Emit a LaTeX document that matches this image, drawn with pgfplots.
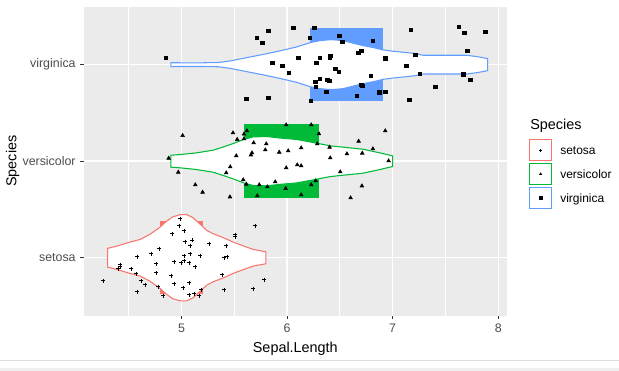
\documentclass[border=0pt]{standalone}
\usepackage{pgfplots}
\pgfplotsset{compat=1.18}
\usepackage{fontspec}
\setmainfont{Liberation Sans}
\definecolor{cset}{HTML}{F8766D}
\definecolor{cver}{HTML}{00BA38}
\definecolor{cvir}{HTML}{619CFF}
\definecolor{panelbg}{HTML}{EBEBEB}
\definecolor{tickgray}{HTML}{4D4D4D}
\definecolor{tickline}{HTML}{333333}

\pgfplotstableread{
x y
4.989 1.404
4.979 1.332
5.027 1.280
4.913 1.249
5.509 1.238
5.509 1.218
5.699 1.332
5.036 1.166
5.102 1.182
5.083 1.124
5.263 1.145
5.424 1.124
4.790 1.093
4.714 1.041
4.581 1.010
5.027 1.021
5.083 1.041
5.178 1.021
5.405 1.000
5.434 1.010
4.932 0.959
4.998 0.948
5.027 0.969
5.074 0.948
4.761 0.938
4.420 0.927
4.418 0.907
4.405 0.886
4.525 0.886
5.131 0.907
4.572 0.834
4.761 0.845
4.903 0.813
5.386 0.824
4.259 0.762
4.619 0.762
4.657 0.720
4.932 0.731
5.074 0.741
5.017 0.689
5.784 0.772
4.581 0.648
4.780 0.699
4.828 0.606
5.188 0.668
5.405 0.668
5.680 0.679
5.074 0.617
5.121 0.627
5.169 0.606
}\setosapts

\pgfplotstableread{
x y
5.011 2.266
5.488 2.293
5.592 2.280
5.620 2.314
5.992 2.376
6.229 2.376
6.302 2.283
6.930 2.314
5.528 2.225
5.592 2.231
5.684 2.190
5.803 2.179
5.794 2.117
6.134 2.138
6.286 2.179
6.403 2.145
6.678 2.207
6.813 2.128
5.926 2.093
6.011 2.107
5.668 2.086
5.658 2.065
5.519 2.055
6.567 2.076
6.712 2.083
4.879 2.031
6.409 2.034
6.962 2.003
5.462 1.941
5.424 1.879
5.992 1.931
6.097 1.962
6.134 1.952
6.504 1.889
4.970 1.886
5.585 1.807
5.614 1.762
5.737 1.755
5.813 1.734
5.888 1.786
5.987 1.717
6.271 1.796
6.229 1.755
5.131 1.755
5.200 1.679
5.459 1.630
5.718 1.641
6.134 1.651
6.602 1.620
6.709 1.744
}\versipts

\pgfplotstableread{
x y
4.853 3.073
5.712 3.280
5.822 3.352
5.765 3.228
6.059 3.383
6.258 3.383
6.214 3.280
6.494 3.301
6.523 3.234
6.811 3.249
7.173 3.363
7.628 3.394
7.678 3.332
7.877 3.338
7.706 3.145
7.214 3.104
6.930 3.065
6.703 3.145
6.674 3.124
6.409 3.089
6.403 3.073
6.312 3.073
6.277 3.021
6.106 3.073
5.860 3.021
5.955 2.990
6.015 2.917
6.456 2.955
6.488 2.924
6.792 2.886
7.129 2.990
7.256 2.907
7.669 2.900
7.735 2.845
7.403 2.772
6.312 2.855
6.267 2.824
6.381 2.845
6.400 2.834
6.274 2.772
6.703 2.789
6.712 2.782
6.371 2.720
6.662 2.679
6.873 2.713
6.930 2.720
7.157 2.637
5.614 2.644
5.822 2.654
6.223 2.623
}\virgpts

\begin{document}
\begin{tikzpicture}
\useasboundingbox (0,0) rectangle (464.25pt,278.25pt);
\fill[color=gray!12] (0,0) rectangle (464.25pt,2.2pt);
\draw[color=gray!25, line width=0.75pt] (0,7.5pt) -- (464.25pt,7.5pt);
\begin{axis}[
  at={(63pt,41.475pt)}, anchor=south west,
  scale only axis, width=317pt, height=231.75pt,
  xmin=4.077, xmax=8.08, ymin=0.4, ymax=3.6,
  axis background/.style={fill=panelbg},
  axis line style={draw=none},
  xtick={5,6,7,8}, minor xtick={4.5,5.5,6.5,7.5},
  ytick={1,2,3}, yticklabels={setosa,versicolor,virginica},
  /pgf/number format/assume math mode=true,
  grid=both,
  major grid style={white, line width=1.07pt},
  minor grid style={white, line width=0.53pt},
  tick align=outside, major tick length=2.75pt, minor tick length=0pt,
  tick pos=left,
  major tick style={draw=tickline, line width=0.8pt},
  ticklabel style={font=\fontsize{9.3}{11}\selectfont, text=tickgray},
  xlabel={Sepal.Length}, ylabel={Species},
  label style={font=\fontsize{10.8}{13}\selectfont},
  ylabel shift=-4.5pt,
  legend style={at={(1.0535,0.5709)}, anchor=north west, draw=none, fill=none,
    inner sep=0pt, outer sep=0pt, row sep=1.25pt,
    nodes={inner sep=0pt, text depth=0pt},
    font=\fontsize{9}{11}\selectfont,
    /tikz/every odd column/.append style={column sep=6.2pt}},
  legend cell align=left,
]
% boxes
\addplot[forget plot, fill=cset, draw=cset, line width=0.75pt] coordinates {(4.8,0.625) (5.2,0.625) (5.2,1.375) (4.8,1.375)} -- cycle;
\addplot[forget plot, fill=cver, draw=cver, line width=0.75pt] coordinates {(5.6,1.625) (6.3,1.625) (6.3,2.375) (5.6,2.375)} -- cycle;
\addplot[forget plot, fill=cvir, draw=cvir, line width=0.75pt] coordinates {(6.225,2.625) (6.9,2.625) (6.9,3.375) (6.225,3.375)} -- cycle;
% violins
\addplot[forget plot, fill=white, draw=cset, line width=0.8pt] coordinates {
(4.3,1.097) (4.39,1.121) (4.51,1.162) (4.61,1.190) (4.70,1.242) (4.79,1.311) (4.86,1.380) (4.92,1.425) (4.99,1.446) (5.05,1.446) (5.11,1.415) (5.18,1.345) (5.24,1.283) (5.30,1.249) (5.40,1.207) (5.49,1.162) (5.59,1.121) (5.68,1.086) (5.8,1.062)
(5.8,0.938) (5.68,0.914) (5.59,0.879) (5.49,0.838) (5.40,0.793) (5.30,0.751) (5.24,0.717) (5.18,0.655) (5.11,0.585) (5.05,0.554) (4.99,0.554) (4.92,0.575) (4.86,0.620) (4.79,0.689) (4.70,0.758) (4.61,0.810) (4.51,0.838) (4.39,0.879) (4.3,0.903)} -- cycle;
\addplot[forget plot, fill=white, draw=cver, line width=0.8pt] coordinates {
(4.9,2.062) (4.99,2.069) (5.14,2.086) (5.30,2.114) (5.40,2.149) (5.49,2.183) (5.59,2.225) (5.68,2.252) (5.81,2.255) (5.93,2.240) (6.09,2.225) (6.25,2.193) (6.41,2.159) (6.56,2.142) (6.72,2.124) (6.88,2.086) (7.0,2.055)
(7.0,1.945) (6.88,1.914) (6.72,1.876) (6.56,1.858) (6.41,1.841) (6.25,1.807) (6.09,1.775) (5.93,1.760) (5.81,1.745) (5.68,1.748) (5.59,1.775) (5.49,1.817) (5.40,1.851) (5.30,1.886) (5.14,1.914) (4.99,1.931) (4.9,1.938)} -- cycle;
\addplot[forget plot, fill=white, draw=cvir, line width=0.8pt] coordinates {
(4.9,3.02) (5.0,3.019) (5.2,3.019) (5.35,3.022) (5.46,3.038) (5.62,3.073) (5.78,3.107) (5.93,3.142) (6.09,3.183) (6.22,3.228) (6.31,3.249) (6.42,3.259) (6.53,3.249) (6.63,3.221) (6.72,3.197) (6.82,3.176) (6.91,3.152) (7.01,3.138) (7.10,3.128) (7.20,3.117) (7.29,3.097) (7.51,3.097) (7.70,3.097) (7.80,3.083) (7.9,3.062)
(7.9,2.938) (7.80,2.917) (7.70,2.903) (7.51,2.903) (7.29,2.903) (7.20,2.883) (7.10,2.872) (7.01,2.862) (6.91,2.848) (6.82,2.824) (6.72,2.803) (6.63,2.779) (6.53,2.751) (6.42,2.741) (6.31,2.751) (6.22,2.772) (6.09,2.817) (5.93,2.858) (5.78,2.893) (5.62,2.927) (5.46,2.962) (5.35,2.978) (5.2,2.981) (5.0,2.981) (4.9,2.98)} -- cycle;
% jittered points
\addplot[forget plot, only marks, mark=+, mark size=1.6pt, mark options={black, line width=0.7pt}] table {\setosapts};
\addplot[forget plot, only marks, mark=triangle*, mark size=1.6pt, mark options={black, draw=black, fill=black}] table {\versipts};
\addplot[forget plot, only marks, mark=square*, mark size=1.2pt, mark options={black, draw=black, fill=black}] table {\virgpts};
% legend
\addlegendimage{legend image code/.code={
  \draw[cset, fill=white, line width=0.75pt] (0pt,-7.9pt) rectangle (16.3pt,7.9pt);
  \draw[black, line width=0.4pt] plot[mark=+, mark size=1.1pt] coordinates {(8.15pt,0pt)};}}
\addlegendentry{setosa}
\addlegendimage{legend image code/.code={
  \draw[cver, fill=white, line width=0.75pt] (0pt,-7.9pt) rectangle (16.3pt,7.9pt);
  \draw[black, fill=black, line width=0.2pt] plot[mark=triangle*, mark size=1.1pt] coordinates {(8.15pt,0pt)};}}
\addlegendentry{versicolor}
\addlegendimage{legend image code/.code={
  \draw[cvir, fill=white, line width=0.75pt] (0pt,-7.9pt) rectangle (16.3pt,7.9pt);
  \draw[black, fill=black, line width=0.2pt] plot[mark=square*, mark size=0.9pt] coordinates {(8.15pt,0pt)};}}
\addlegendentry{virginica}
\end{axis}
\node[anchor=base west, font=\fontsize{10.8}{13}\selectfont, inner sep=0pt] at (397.5pt,180.75pt) {Species};
\end{tikzpicture}
\end{document}
